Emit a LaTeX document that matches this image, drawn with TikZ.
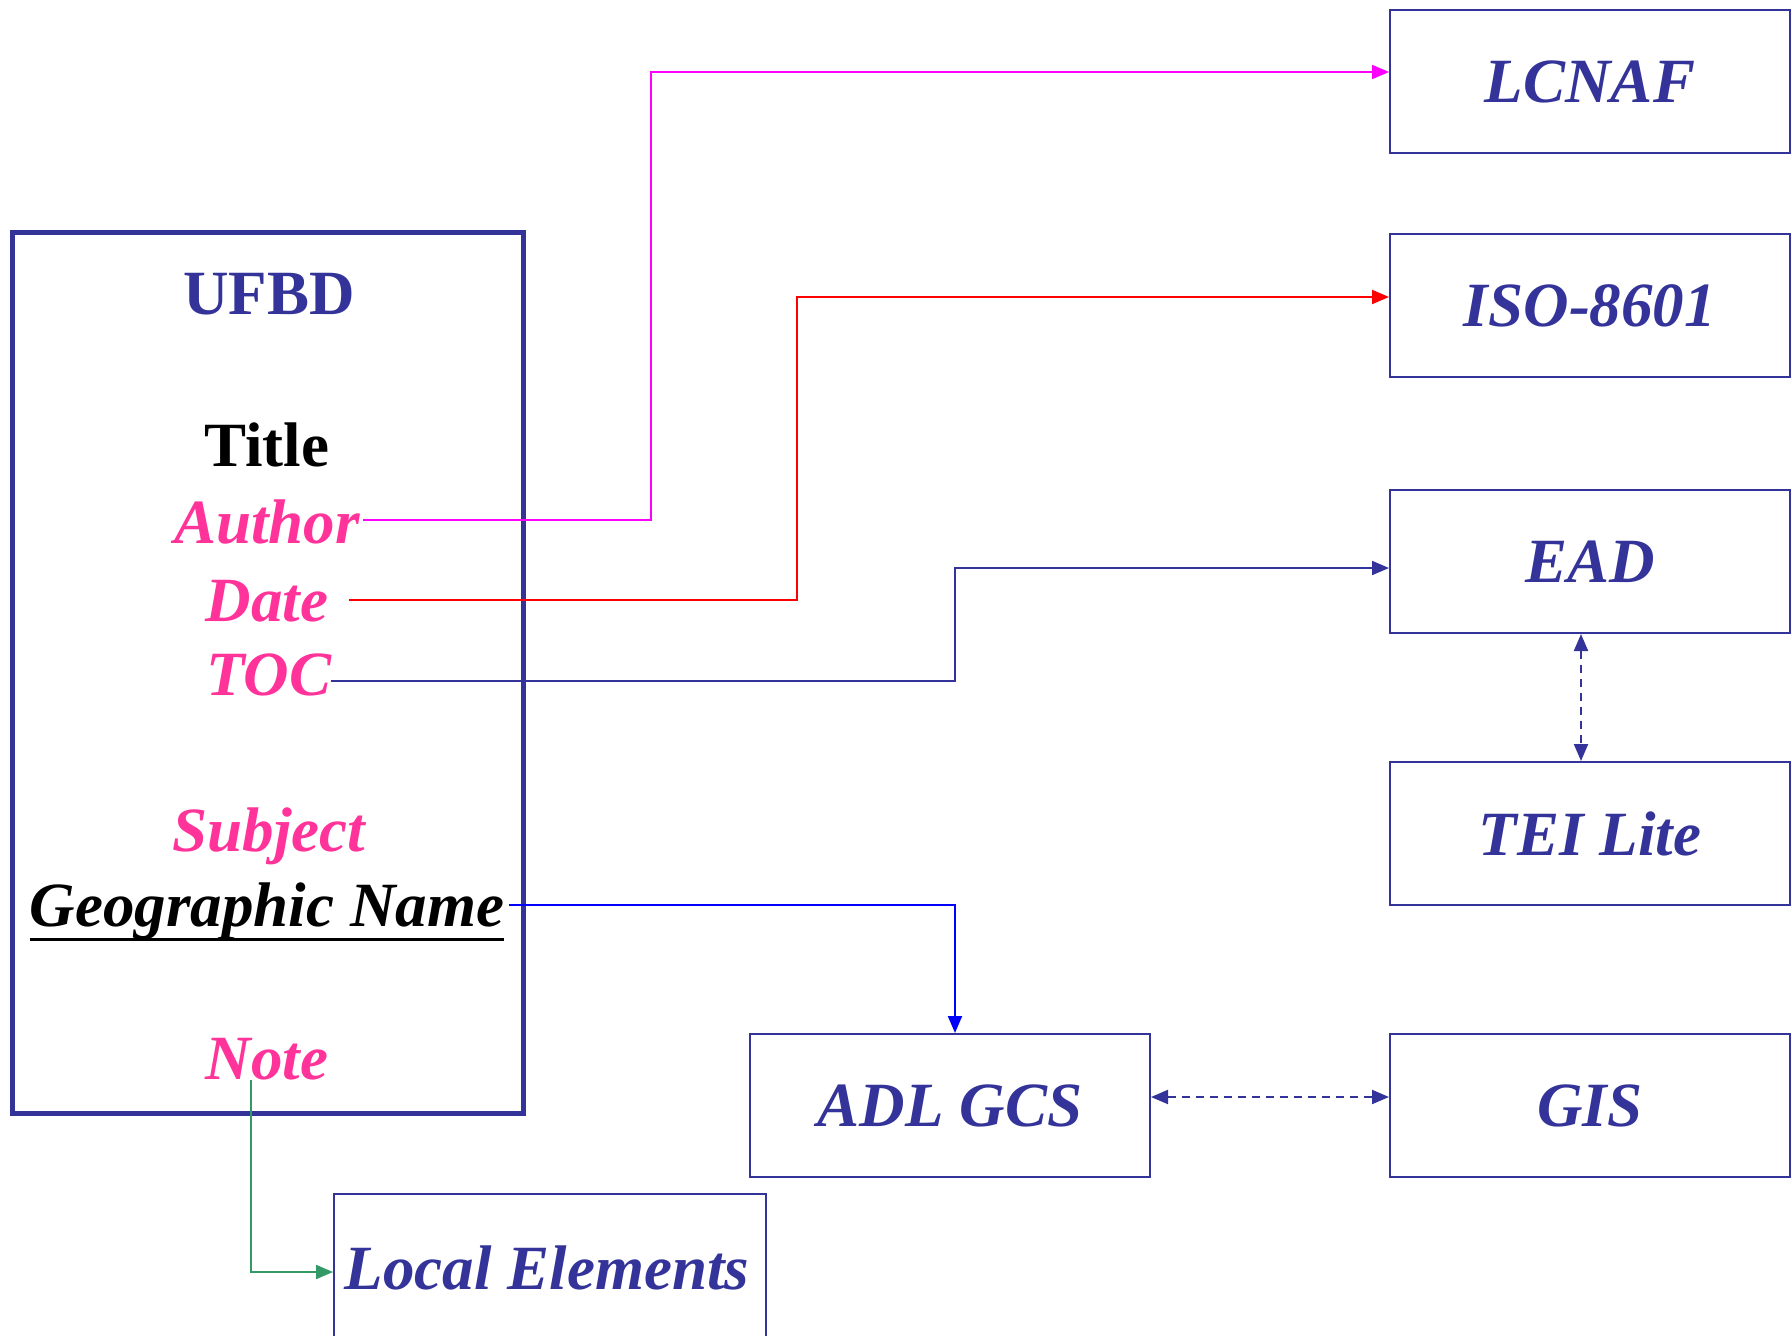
\documentclass[tikz,border=0pt]{standalone}
\usepackage{fontspec}
\setmainfont{Liberation Serif}
\usetikzlibrary{arrows.meta,calc}
\definecolor{navy}{HTML}{333399}
\definecolor{pinktext}{HTML}{FF3399}
\definecolor{magline}{HTML}{FF00FF}
\definecolor{redline}{HTML}{FF0000}
\definecolor{blueline}{HTML}{0000FF}
\definecolor{greenline}{HTML}{339966}
\begin{document}
\begin{tikzpicture}[x=1pt,y=-1pt,
  bi/.style={font=\fontsize{63}{70}\selectfont\bfseries\itshape},
  bu/.style={font=\fontsize{63}{70}\selectfont\bfseries},
  lbl/.style={inner sep=0pt, anchor=base},
  box/.style={draw=navy, line width=2pt, minimum width=400pt, minimum height=143pt,
    inner sep=0pt, text=navy, bi, anchor=north west},
  tip/.style={-{Triangle[length=17pt,width=14pt]}},
  tips/.style={{Triangle[length=17pt,width=14pt]}-{Triangle[length=17pt,width=14pt]}},
  conn/.style={line width=2pt},
  dash8/.style={dash pattern=on 8pt off 6pt}]
\useasboundingbox (0,0) rectangle (1792,1336);

% big UFBD box
\node[draw=navy, line width=5pt, minimum width=511pt, minimum height=881pt,
  inner sep=0pt, anchor=north west] (ufbdbox) at (10,230) {};

% field texts
\node[lbl, bu, text=navy] (ufbd) at (269,314) {UFBD};
\node[lbl, bu, text=black] (title) at (267,466) {Title};
\node[lbl, bi, text=pinktext] (author) at (267,543) {Author};
\node[lbl, bi, text=pinktext] (date) at (267,621) {Date};
\node[lbl, bi, text=pinktext] (toc) at (269,695) {TOC};
\node[lbl, bi, text=pinktext] (subject) at (269,851) {Subject};
\node[lbl, bi, text=black] (geo) at (267,926) {Geographic Name};
\node[lbl, bi, text=pinktext] (note) at (267,1079) {Note};
\draw[line width=3pt] (geo.south west) -- (geo.south east);

% target boxes
\node[box] (lcnaf) at (1389,9) {LCNAF};
\node[box] (iso) at (1389,233) {ISO-8601};
\node[box] (ead) at (1389,489) {EAD};
\node[box] (tei) at (1389,761) {TEI Lite};
\node[box] (gis) at (1389,1033) {GIS};
\node[box] (adl) at (749,1033) {ADL GCS};
\node[box, minimum width=432pt, minimum height=180pt] (local) at (333,1193) {};
\node[lbl, bi, text=navy] (locallbl) at (547,1289) {Local Elements};

% connector start points
\coordinate (authorS) at (363,520);
\coordinate (dateS) at (349,600);
\coordinate (tocS) at (331,681);
\coordinate (geoS) at (509,905);
\coordinate (noteS) at (251,1080);

% connectors
\draw[conn, magline, tip] (authorS) -- (651,520) -- (651,72) -- (lcnaf.west |- 0,72);
\draw[conn, redline, tip] (dateS) -- (797,600) -- (797,297) -- (iso.west |- 0,297);
\draw[conn, navy, tip] (tocS) -- (955,681) -- (955,568) -- (ead.west |- 0,568);
\draw[conn, blueline, tip] (geoS) -- (955,905) -- (adl.north -| 955,0);
\draw[conn, greenline, tip] (noteS) -- (251,1272) -- (local.west |- 0,1272);
\draw[conn, navy, dash8, tips] (ead.south -| 1581,0) -- (tei.north -| 1581,0);
\draw[conn, navy, dash8, tips] (adl.east |- 0,1097) -- (gis.west |- 0,1097);
\end{tikzpicture}
\end{document}
